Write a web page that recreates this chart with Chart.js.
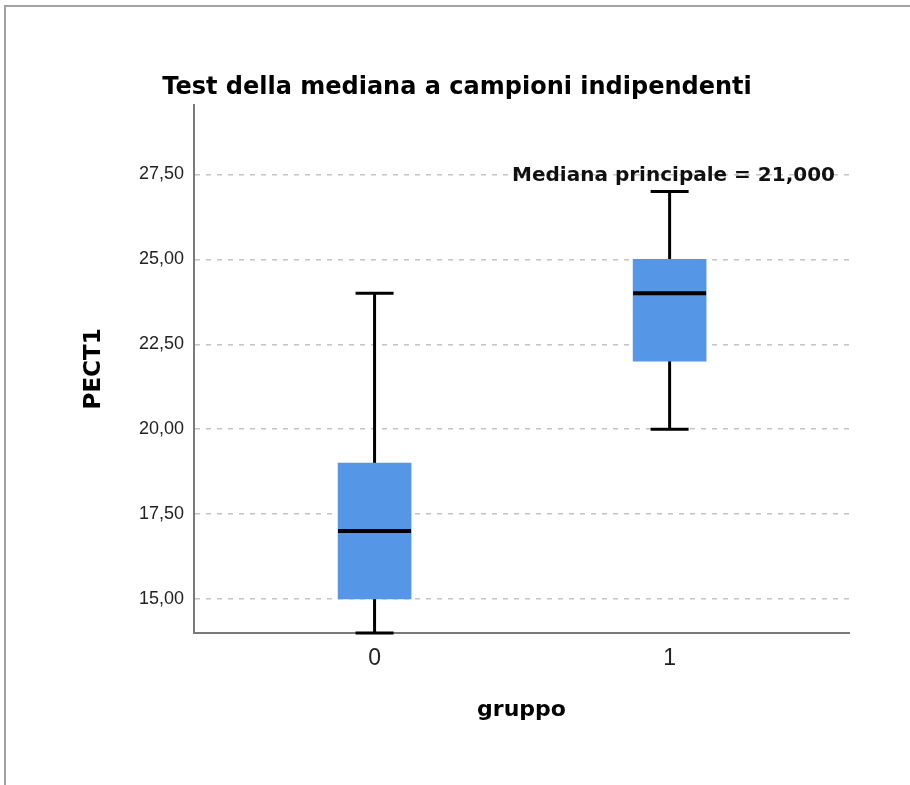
<!DOCTYPE html>
<html>
<head>
<meta charset="utf-8">
<script src="https://cdn.jsdelivr.net/npm/chart.js@4.4.1/dist/chart.umd.min.js"></script>
<style>
  html, body { margin: 0; padding: 0; background: #fff; }
  #wrap { position: relative; width: 910px; height: 785px; overflow: hidden; }
  #frame { position: absolute; left: 4px; top: 5px; right: -4px; bottom: -4px;
           border-left: 2px solid #a3a3a3; border-top: 2px solid #a3a3a3; pointer-events: none; }
  canvas { display: block; }
</style>
</head>
<body>
<div id="wrap">
  <canvas id="chart" width="910" height="785"></canvas>
  <div id="frame"></div>
</div>
<script>
// --- data ---
const groups = ['0', '1'];
const groupX = [0, 1];
const whiskerLow = [14, 20];
const q1 = [15, 22];
const medians = [17, 24];
const q3 = [19, 25];
const whiskerHigh = [24, 27];

const yTickValues = [15, 17.5, 20, 22.5, 25, 27.5];
const yTickLabels = ['15,00', '17,50', '20,00', '22,50', '25,00', '27,50'];

const grandMedianLabel = 'Mediana principale = 21,000';
const grandMedianLabelY = 27.5;

const BOX_COLOR = '#5596e6';
const BOX_WIDTH = 73;

// text on the 27,50 line, top right of the plot
const medianLabelPlugin = {
    id: 'medianLabel',
    afterDatasetsDraw(chart) {
        const { ctx, chartArea, scales } = chart;
        const y = scales.y.getPixelForValue(grandMedianLabelY);
        ctx.save();
        ctx.font = 'bold 20px "DejaVu Sans"';
        ctx.fillStyle = '#111';
        ctx.textAlign = 'right';
        ctx.textBaseline = 'middle';
        ctx.fillText(grandMedianLabel, chartArea.right - 14, y + 1);
        ctx.restore();
    }
};

// whiskers: one thin line per group, behind the box
const whiskerSets = groupX.map((x, i) => ({
    type: 'scatter',
    showLine: true,
    data: [{ x: x, y: whiskerLow[i] }, { x: x, y: whiskerHigh[i] }],
    borderColor: '#000',
    borderWidth: 3,
    pointRadius: 0,
    clip: false,
    order: 3
}));

const datasets = [
    {
        type: 'bar',
        data: groupX.map((x, i) => ({ x: x, y: [q1[i], q3[i]] })),
        backgroundColor: BOX_COLOR,
        borderWidth: 0,
        barThickness: BOX_WIDTH,
        grouped: false,
        order: 2
    },
    ...whiskerSets,
    {
        // whisker caps
        type: 'scatter',
        data: groupX.flatMap((x, i) => [{ x: x, y: whiskerLow[i] }, { x: x, y: whiskerHigh[i] }]),
        pointStyle: 'line',
        pointRadius: 19,
        pointHoverRadius: 19,
        borderColor: '#000',
        borderWidth: 3,
        clip: false,
        order: 1
    },
    {
        // medians
        type: 'scatter',
        data: groupX.map((x, i) => ({ x: x, y: medians[i] })),
        pointStyle: 'line',
        pointRadius: BOX_WIDTH / 2,
        pointHoverRadius: BOX_WIDTH / 2,
        borderColor: '#000',
        borderWidth: 4,
        clip: false,
        order: 0
    }
];

new Chart(document.getElementById('chart'), {
    type: 'bar',
    data: { datasets: datasets },
    options: {
        responsive: false,
        animation: false,
        events: [],
        layout: { padding: { left: 65, right: 61, top: 0, bottom: 0 } },
        plugins: {
            legend: { display: false },
            tooltip: { enabled: false },
            title: {
                display: true,
                text: 'Test della mediana a campioni indipendenti',
                color: '#000',
                font: { family: '"DejaVu Sans"', size: 24, weight: 'bold', lineHeight: 1.2 },
                padding: { top: 73, bottom: 3 }
            }
        },
        scales: {
            x: {
                type: 'linear',
                min: -0.612,
                max: 1.608,
                offset: false,
                afterBuildTicks: (scale) => { scale.ticks = groupX.map(v => ({ value: v })); },
                afterFit: (scale) => { scale.height = 152; },
                ticks: {
                    color: '#222',
                    padding: 12,
                    font: { family: '"Liberation Sans"', size: 23 },
                    callback: (v) => groups[groupX.indexOf(v)] ?? ''
                },
                grid: { display: false, drawTicks: false },
                border: { display: true, color: '#7a7a7a', width: 2 },
                title: {
                    display: true,
                    text: 'gruppo',
                    color: '#000',
                    font: { family: '"DejaVu Sans"', size: 22, weight: 'bold', lineHeight: 1.2 },
                    padding: { top: 0, bottom: 62 }
                }
            },
            y: {
                min: 14,
                max: 29.55,
                afterBuildTicks: (scale) => { scale.ticks = yTickValues.map(v => ({ value: v })); },
                afterFit: (scale) => { scale.width = 129; },
                ticks: {
                    color: '#222',
                    padding: 10,
                    font: { family: '"Liberation Sans"', size: 18 },
                    callback: (v) => yTickLabels[yTickValues.indexOf(v)]
                },
                grid: { color: '#c4c4c4', lineWidth: 1.5, drawTicks: false },
                border: { display: true, color: '#7a7a7a', width: 2, dash: [5, 6] },
                title: {
                    display: true,
                    text: 'PECT1',
                    color: '#000',
                    font: { family: '"DejaVu Sans"', size: 23, weight: 'bold', lineHeight: 1.2 },
                    padding: { top: 15, bottom: 0 }
                }
            }
        }
    },
    plugins: [medianLabelPlugin]
});
</script>
</body>
</html>
